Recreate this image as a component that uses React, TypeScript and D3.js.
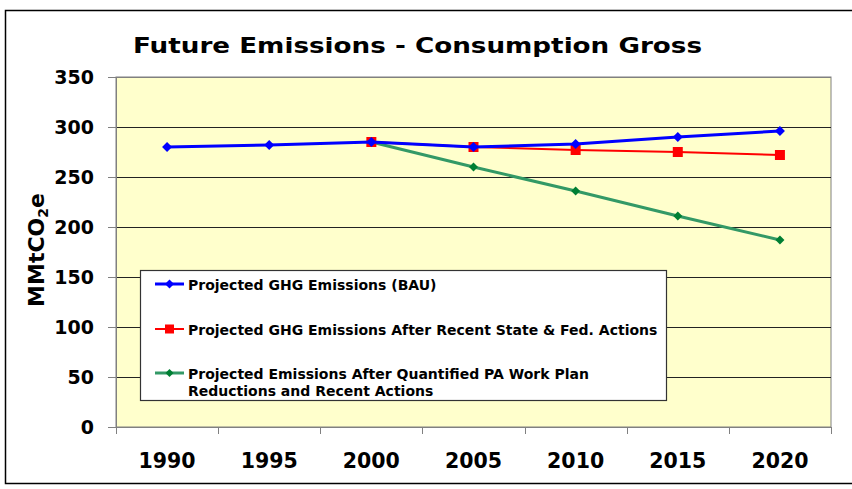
import { useRef, useEffect } from 'react';
import * as d3 from 'd3';

const years = ['1990', '1995', '2000', '2005', '2010', '2015', '2020'];
const bau = [280, 282, 285, 280, 283, 290, 296];
const recent: (number | null)[] = [null, null, 285, 280, 277, 275, 272];
const planned: (number | null)[] = [null, null, 285, 260, 236, 211, 187];
const yTicks = [0, 50, 100, 150, 200, 250, 300, 350];

const seriesList = [
  { name: 'Projected GHG Emissions (BAU)', values: bau as (number | null)[], line: '#0000ff', fill: '#0000ff', width: 3, marker: 'diamond', size: 9 },
  { name: 'Projected GHG Emissions After Recent State & Fed. Actions', values: recent, line: '#ff0000', fill: '#ff0000', width: 2, marker: 'square', size: 10 },
  { name: 'Projected Emissions After Quantified PA Work Plan|Reductions and Recent Actions', values: planned, line: '#339966', fill: '#007f33', width: 3, marker: 'diamond', size: 8 },
];

export default function App() {
  const svgRef = useRef<SVGSVGElement | null>(null);

  useEffect(() => {
    const width = 852, height = 489;
    const svg = d3.select(svgRef.current);
    svg.selectAll('*').remove();
    svg.attr('width', width).attr('height', height);

    const font = "'DejaVu Sans', Verdana, sans-serif";
    const plot = { left: 116, top: 77, right: 831, bottom: 427 };

    // outer frame (right edge runs off the picture)
    svg.append('rect')
      .attr('x', 5.5).attr('y', 10.5)
      .attr('width', 860).attr('height', 473)
      .attr('fill', 'white').attr('stroke', '#000').attr('stroke-width', 1.5);

    const x = d3.scaleBand<string>().domain(years).range([plot.left, plot.right]);
    const y = d3.scaleLinear().domain([0, 350]).range([plot.bottom, plot.top]);

    // plot area
    svg.append('rect')
      .attr('x', plot.left).attr('y', plot.top)
      .attr('width', plot.right - plot.left).attr('height', plot.bottom - plot.top)
      .attr('fill', '#ffffcc').attr('stroke', '#808080').attr('stroke-width', 1);

    // gridlines
    svg.append('g').selectAll('line')
      .data(yTicks.filter(t => t > 0))
      .join('line')
      .attr('x1', plot.left).attr('x2', plot.right)
      .attr('y1', d => Math.round(y(d)) + 0.5).attr('y2', d => Math.round(y(d)) + 0.5)
      .attr('stroke', d => d === 350 ? '#808080' : '#222').attr('stroke-width', 1);

    // y axis
    const yAxis = svg.append('g');
    yAxis.append('line')
      .attr('x1', plot.left + 0.5).attr('x2', plot.left + 0.5)
      .attr('y1', plot.top).attr('y2', plot.bottom)
      .attr('stroke', '#808080');
    yAxis.selectAll('line.tick')
      .data(yTicks)
      .join('line')
      .attr('class', 'tick')
      .attr('x1', plot.left - 8).attr('x2', plot.left)
      .attr('y1', d => Math.round(y(d)) + 0.5).attr('y2', d => Math.round(y(d)) + 0.5)
      .attr('stroke', '#808080');
    yAxis.selectAll('text')
      .data(yTicks)
      .join('text')
      .attr('x', 94).attr('y', d => y(d) + 6.5)
      .attr('text-anchor', 'end')
      .style('font-family', font).style('font-weight', 'bold').style('font-size', '19px')
      .text(d => d);

    // x axis
    const xAxis = svg.append('g');
    xAxis.append('line')
      .attr('x1', plot.left).attr('x2', plot.right)
      .attr('y1', plot.bottom + 0.5).attr('y2', plot.bottom + 0.5)
      .attr('stroke', '#808080');
    const bounds = years.map(d => x(d) as number).concat([plot.right]);
    xAxis.selectAll('line.tick')
      .data(bounds)
      .join('line')
      .attr('class', 'tick')
      .attr('x1', d => Math.round(d) + 0.5).attr('x2', d => Math.round(d) + 0.5)
      .attr('y1', plot.bottom).attr('y2', plot.bottom + 7)
      .attr('stroke', '#808080');
    xAxis.selectAll('text')
      .data(years)
      .join('text')
      .attr('x', d => (x(d) as number) + x.bandwidth() / 2)
      .attr('y', 468)
      .attr('text-anchor', 'middle')
      .style('font-family', font).style('font-weight', 'bold').style('font-size', '20.5px')
      .text(d => d);

    // title
    svg.append('text')
      .attr('x', 133).attr('y', 53)
      .attr('textLength', 569)
      .attr('lengthAdjust', 'spacingAndGlyphs')
      .style('font-family', font).style('font-weight', 'bold').style('font-size', '21.5px')
      .text('Future Emissions - Consumption Gross');

    // y axis title
    const yt = svg.append('text')
      .attr('transform', 'translate(44,250) rotate(-90)')
      .attr('text-anchor', 'middle')
      .style('font-family', font).style('font-weight', 'bold').style('font-size', '22px');
    yt.append('tspan').text('MMtCO');
    yt.append('tspan').attr('font-size', '14px').attr('dy', 4).text('2');
    yt.append('tspan').attr('dy', -4).text('e');

    const cx = (d: string) => (x(d) as number) + x.bandwidth() / 2;

    const drawMarker = (g: any, s: typeof seriesList[0], px: number, py: number) => {
      if (s.marker === 'square') {
        g.append('rect')
          .attr('x', px - s.size / 2).attr('y', py - s.size / 2)
          .attr('width', s.size).attr('height', s.size)
          .attr('fill', s.fill);
      } else {
        const r = s.size / 2 + 0.5;
        g.append('path')
          .attr('d', `M${px},${py - r}L${px + r},${py}L${px},${py + r}L${px - r},${py}Z`)
          .attr('fill', s.fill);
      }
    };

    // series (green first so blue/red sit on top where they overlap)
    [2, 1, 0].forEach(i => {
      const s = seriesList[i];
      const pts = years.map((yr, j) => ({ yr, v: s.values[j] })).filter(p => p.v !== null) as { yr: string; v: number }[];
      const line = d3.line<{ yr: string; v: number }>().x(p => cx(p.yr)).y(p => y(p.v));
      const g = svg.append('g');
      g.append('path')
        .attr('d', line(pts))
        .attr('fill', 'none')
        .attr('stroke', s.line)
        .attr('stroke-width', s.width);
      pts.forEach(p => drawMarker(g, s, cx(p.yr), y(p.v)));
    });

    // legend
    const lg = svg.append('g');
    lg.append('rect')
      .attr('x', 140.5).attr('y', 270.5)
      .attr('width', 526).attr('height', 130)
      .attr('fill', 'white').attr('stroke', '#333').attr('stroke-width', 1.2);
    const rows = [284, 329, 373];
    seriesList.forEach((s, i) => {
      const ly = rows[i];
      lg.append('line')
        .attr('x1', 155).attr('x2', 184)
        .attr('y1', ly).attr('y2', ly)
        .attr('stroke', s.line).attr('stroke-width', s.width);
      drawMarker(lg, { ...s, size: s.size - 1 }, 169.5, ly);
      s.name.split('|').forEach((t, k) => {
        lg.append('text')
          .attr('x', 188).attr('y', ly + 5.5 + k * 17)
          .style('font-family', font).style('font-weight', 'bold').style('font-size', '14px')
          .text(t);
      });
    });
  }, []);

  return <svg ref={svgRef} style={{ position: 'absolute', left: 0, top: 0 }}></svg>;
}
